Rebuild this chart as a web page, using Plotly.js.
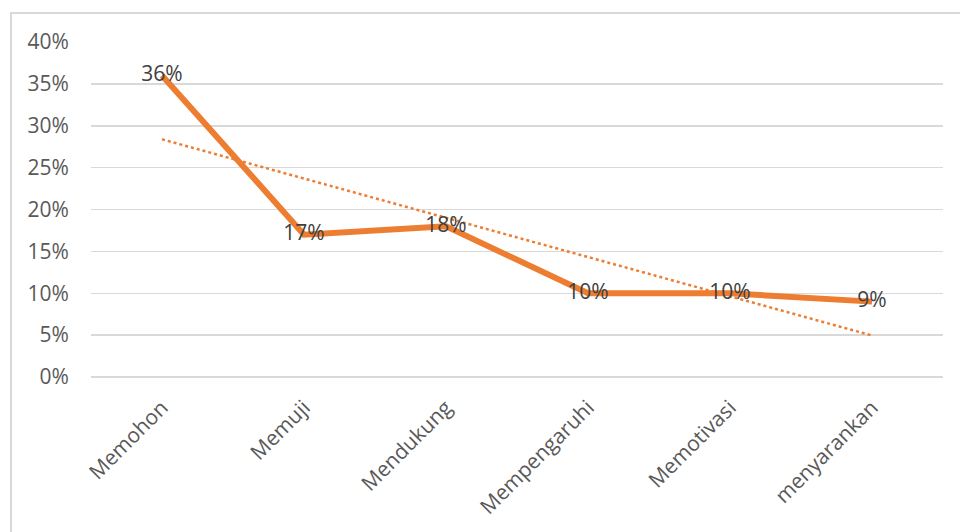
<!DOCTYPE html>
<html>
<head>
<meta charset="utf-8">
<script src="https://cdn.plot.ly/plotly-3.0.1.min.js"></script>
<style>
  html, body { margin: 0; padding: 0; background: #fff; }
  #wrap { position: relative; width: 960px; height: 532px; overflow: hidden; }
  #chart { position: absolute; left: 0; top: 0; width: 960px; height: 532px; }
  #frame { position: absolute; left: 10px; top: 12px; width: 960px; height: 540px;
           border-left: 2px solid #d9d9d9; border-top: 2px solid #d9d9d9; pointer-events: none; }
</style>
</head>
<body>
<div id="wrap">
  <div id="chart"></div>
  <div id="frame"></div>
</div>
<script>
const categories = ["Memohon", "Memuji", "Mendukung", "Mempengaruhi", "Memotivasi", "menyarankan"];
const values = [0.36, 0.17, 0.18, 0.10, 0.10, 0.09];
const valueLabels = ["36%", "17%", "18%", "10%", "10%", "9%"];
const yTickVals = [0, 0.05, 0.10, 0.15, 0.20, 0.25, 0.30, 0.35, 0.40];

// Linear trendline (least squares) from the data, like the spreadsheet's trendline
const n = values.length;
const xs = values.map((_, i) => i + 1);
const mx = xs.reduce((a, b) => a + b, 0) / n;
const my = values.reduce((a, b) => a + b, 0) / n;
let sxy = 0, sxx = 0;
for (let i = 0; i < n; i++) { sxy += (xs[i] - mx) * (values[i] - my); sxx += (xs[i] - mx) ** 2; }
const slope = sxy / sxx;
const trend = xs.map(x => my + slope * (x - mx));

const font = "'Open Sans', sans-serif";

const data = [
  {
    x: categories, y: trend, type: "scatter", mode: "lines",
    line: { color: "#ED7D31", width: 2.5, dash: "dot" },
    hoverinfo: "skip", showlegend: false
  },
  {
    x: categories, y: values, type: "scatter", mode: "lines+text",
    line: { color: "#ED7D31", width: 6 },
    text: valueLabels, textposition: "middle center",
    textfont: { family: font, size: 21, color: "#404040" },
    showlegend: false, cliponaxis: false
  }
];

const layout = {
  width: 960, height: 532,
  margin: { l: 91, r: 17, t: 42, b: 155 },
  paper_bgcolor: "#ffffff", plot_bgcolor: "#ffffff",
  font: { family: font, size: 21, color: "#595959" },
  xaxis: {
    type: "category", range: [-0.5, 5.5],
    showgrid: false, zeroline: false, showline: false,
    tickangle: -45, ticks: "outside", ticklen: 9, tickcolor: "rgba(0,0,0,0)",
    tickfont: { family: font, size: 21, color: "#595959" }, fixedrange: true
  },
  yaxis: {
    range: [0, 0.4], tickvals: yTickVals, tickformat: ".0%",
    showgrid: true, gridcolor: "#d9d9d9", gridwidth: 1.5,
    zeroline: true, zerolinecolor: "#d9d9d9", zerolinewidth: 1.5,
    showline: false, ticks: "outside", ticklen: 17, tickcolor: "rgba(0,0,0,0)",
    tickfont: { family: font, size: 21, color: "#595959" }, fixedrange: true
  },
  showlegend: false
};

Plotly.newPlot("chart", data, layout, { displayModeBar: false, staticPlot: true });
</script>
</body>
</html>
